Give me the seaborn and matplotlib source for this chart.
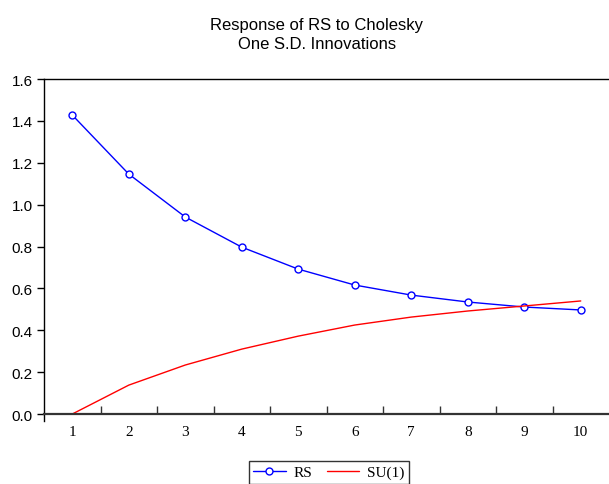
import numpy as np
import pandas as pd
import matplotlib
matplotlib.use("Agg")
import matplotlib.pyplot as plt
import seaborn as sns

periods = [1, 2, 3, 4, 5, 6, 7, 8, 9, 10]
rs_values = [1.428, 1.146, 0.941, 0.797, 0.692, 0.616, 0.568, 0.535, 0.511, 0.497]
su_values = [0.000, 0.138, 0.234, 0.310, 0.372, 0.425, 0.463, 0.492, 0.516, 0.540]
series_names = ["RS", "SU(1)"]
y_ticks = [0.0, 0.2, 0.4, 0.6, 0.8, 1.0, 1.2, 1.4, 1.6]

df = pd.DataFrame({
    "period": periods * 2,
    "value": rs_values + su_values,
    "series": [series_names[0]] * len(periods) + [series_names[1]] * len(periods),
})

sns.set_style("white")
plt.rcParams["font.family"] = ["Liberation Sans", "DejaVu Sans"]
plt.rcParams["text.color"] = "black"
plt.rcParams["xtick.color"] = "black"
plt.rcParams["ytick.color"] = "black"
plt.rcParams["axes.labelcolor"] = "black"

fig = plt.figure(figsize=(6.09, 4.85), dpi=100)
ax = fig.add_axes([0.0723, 0.1443, 0.9277, 0.6907])

sns.lineplot(data=df[df.series == "RS"], x="period", y="value", ax=ax,
             color="#0000FF", linewidth=1.0, marker="o", markersize=5,
             markerfacecolor="white", markeredgecolor="#0000FF", markeredgewidth=1.0,
             label="RS")
sns.lineplot(data=df[df.series == "SU(1)"], x="period", y="value", ax=ax,
             color="#FF0000", linewidth=1.0, label="SU(1)")

ax.set_xlim(0.5, 10.5)
ax.set_ylim(0.0, 1.6)
ax.set_xlabel("")
ax.set_ylabel("")

ax.set_yticks(y_ticks)
ax.set_yticklabels([f"{v:.1f}" for v in y_ticks], fontsize=11, family="Liberation Sans", color="black")
ax.tick_params(axis="y", direction="out", length=5, width=1, color="black", pad=3, left=True)

ax.set_xticks(periods)
ax.set_xticklabels([str(p) for p in periods], fontsize=11, family="Liberation Serif", color="black")
ax.tick_params(axis="x", which="major", length=0, pad=8)
ax.set_xticks([p + 0.5 for p in periods[:-1]], minor=True)
ax.tick_params(axis="x", which="minor", direction="in", length=6, width=1, color="#333333", bottom=True)

for s in ["top", "left", "bottom"]:
    ax.spines[s].set_visible(True)
    ax.spines[s].set_color("black")
ax.spines["right"].set_visible(False)
ax.spines["top"].set_linewidth(1.0)
ax.spines["left"].set_linewidth(1.0)
ax.spines["bottom"].set_linewidth(1.6)
ax.spines["bottom"].set_color("#333333")
ax.spines["left"].set_bounds(-0.035, 1.6)

fig.text(0.5205, 1 - 35 / 485, "Response of RS to Cholesky\nOne S.D. Innovations",
         ha="center", va="center", fontsize=12, family="Liberation Sans",
         linespacing=1.3, color="black")

ax.get_legend().remove()
handles, labels = ax.get_legend_handles_labels()
leg = fig.legend(handles, labels, loc="upper center", bbox_to_anchor=(0.540, 1 - 462 / 485),
                 ncol=2, frameon=True, fancybox=False, edgecolor="black",
                 prop={"family": "Liberation Serif", "size": 11},
                 handlelength=2.1, columnspacing=1.0, borderpad=0.3, handletextpad=0.5,
                 borderaxespad=0)
leg.get_frame().set_linewidth(1.0)

fig.savefig("out.png", dpi=100)
